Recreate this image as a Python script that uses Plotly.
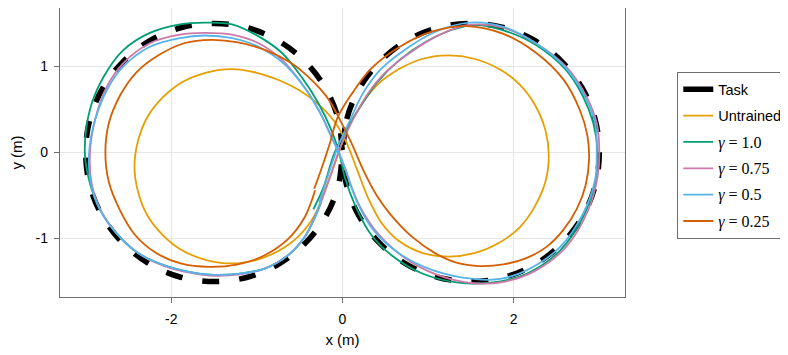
import plotly.graph_objects as go

# ---------------- data ----------------
task_x = [0.00, 0.05, 0.20, 0.44, 0.75, 1.11, 1.50, 1.89, 2.25, 2.56, 2.80, 2.95, 3.00,
          2.95, 2.80, 2.56, 2.25, 1.89, 1.50, 1.11, 0.75, 0.44, 0.20, 0.05, 0.00,
          -0.05, -0.20, -0.44, -0.75, -1.11, -1.50, -1.89, -2.25, -2.56, -2.80, -2.95, -3.00,
          -2.95, -2.80, -2.56, -2.25, -1.89, -1.50, -1.11, -0.75, -0.44, -0.20, -0.05, 0.00]
task_y = [0.00, 0.39, 0.75, 1.06, 1.30, 1.45, 1.50, 1.45, 1.30, 1.06, 0.75, 0.39, 0.00,
          -0.39, -0.75, -1.06, -1.30, -1.45, -1.50, -1.45, -1.30, -1.06, -0.75, -0.39, 0.00,
          0.39, 0.75, 1.06, 1.30, 1.45, 1.50, 1.45, 1.30, 1.06, 0.75, 0.39, 0.00,
          -0.39, -0.75, -1.06, -1.30, -1.45, -1.50, -1.45, -1.30, -1.06, -0.75, -0.39, 0.00]

untrained_x = [-0.21, -0.09, 0.05, 0.21, 0.41, 0.66, 0.94, 1.24, 1.54, 1.83, 2.07, 2.25, 2.37, 2.41,
               2.37, 2.25, 2.07, 1.83, 1.54, 1.24, 0.94, 0.66, 0.45, 0.30, 0.17, 0.04, -0.10,
               -0.28, -0.50, -0.74, -1.01, -1.30, -1.59, -1.87, -2.10, -2.28, -2.39, -2.43,
               -2.39, -2.28, -2.10, -1.87, -1.59, -1.30, -1.01, -0.74, -0.50, -0.32, -0.22]
untrained_y = [-0.45, -0.13, 0.25, 0.54, 0.79, 0.97, 1.09, 1.13, 1.09, 0.97, 0.79, 0.55, 0.26, -0.04,
               -0.34, -0.62, -0.87, -1.05, -1.17, -1.21, -1.17, -1.03, -0.81, -0.53, -0.20, 0.13, 0.37,
               0.56, 0.72, 0.84, 0.93, 0.97, 0.93, 0.82, 0.64, 0.41, 0.13, -0.16,
               -0.45, -0.73, -0.96, -1.14, -1.25, -1.29, -1.25, -1.14, -0.96, -0.72, -0.46]

g100_x = [-0.34, -0.22, -0.10, 0.05, 0.20, 0.40, 0.67, 0.98, 1.29, 1.56, 1.88, 2.26, 2.61, 2.81, 2.93,
          2.98, 2.95, 2.81, 2.54, 2.15, 1.76, 1.33, 0.94, 0.58, 0.33, 0.15, 0.03, -0.04, -0.13,
          -0.28, -0.48, -0.71, -0.98, -1.29, -1.61, -1.90, -2.25, -2.56, -2.79, -2.95, -3.01,
          -2.95, -2.83, -2.64, -2.40, -2.09, -1.78, -1.55, -1.22, -0.91, -0.63, -0.44, -0.32, -0.25]
g100_y = [-0.66, -0.40, -0.02, 0.27, 0.52, 0.81, 1.08, 1.29, 1.43, 1.48, 1.42, 1.25, 0.96, 0.65, 0.34,
          0.00, -0.36, -0.75, -1.14, -1.41, -1.51, -1.51, -1.41, -1.20, -0.95, -0.62, -0.30, 0.00, 0.26,
          0.57, 0.88, 1.16, 1.35, 1.49, 1.51, 1.49, 1.39, 1.19, 0.88, 0.50, 0.00,
          -0.36, -0.67, -0.94, -1.16, -1.31, -1.39, -1.42, -1.41, -1.35, -1.19, -0.98, -0.75, -0.58]

g075_x = [-0.24, -0.15, -0.03, 0.12, 0.30, 0.51, 0.83, 1.14, 1.45, 1.88, 2.26, 2.61, 2.85, 2.97,
          3.00, 2.98, 2.87, 2.61, 2.26, 1.90, 1.53, 1.10, 0.72, 0.42, 0.20, 0.06, -0.05, -0.13,
          -0.28, -0.48, -0.71, -0.98, -1.29, -1.61, -1.90, -2.25, -2.56, -2.75, -2.89, -2.95,
          -2.93, -2.82, -2.63, -2.39, -2.08, -1.77, -1.55, -1.22, -0.91, -0.63, -0.44, -0.32, -0.24]
g075_y = [-0.55, -0.30, 0.05, 0.38, 0.69, 0.94, 1.19, 1.37, 1.48, 1.45, 1.27, 1.00, 0.65, 0.34,
          0.00, -0.28, -0.67, -1.10, -1.37, -1.50, -1.52, -1.42, -1.22, -0.95, -0.62, -0.28, 0.02, 0.18,
          0.50, 0.81, 1.08, 1.27, 1.37, 1.39, 1.37, 1.27, 1.04, 0.77, 0.38, 0.00,
          -0.36, -0.68, -0.95, -1.17, -1.32, -1.40, -1.43, -1.42, -1.35, -1.19, -0.98, -0.74, -0.55]

g050_x = [-0.27, -0.18, -0.06, 0.09, 0.24, 0.44, 0.75, 1.10, 1.49, 1.88, 2.26, 2.61, 2.83, 2.95,
          2.97, 2.95, 2.81, 2.54, 2.15, 1.84, 1.53, 1.06, 0.67, 0.36, 0.16, 0.03, -0.10, -0.24,
          -0.44, -0.67, -0.98, -1.29, -1.61, -1.90, -2.25, -2.56, -2.75, -2.89, -2.96,
          -2.94, -2.83, -2.64, -2.40, -2.09, -1.78, -1.55, -1.22, -0.91, -0.63, -0.44, -0.32, -0.25]
g050_y = [-0.58, -0.30, 0.05, 0.38, 0.69, 0.96, 1.21, 1.41, 1.51, 1.46, 1.27, 0.98, 0.65, 0.34,
          0.00, -0.32, -0.71, -1.10, -1.37, -1.47, -1.47, -1.37, -1.18, -0.90, -0.55, -0.18, 0.12, 0.42,
          0.75, 1.02, 1.23, 1.33, 1.36, 1.33, 1.23, 1.00, 0.73, 0.38, 0.00,
          -0.36, -0.67, -0.94, -1.16, -1.31, -1.39, -1.42, -1.41, -1.35, -1.19, -0.98, -0.75, -0.55]

g025_x = [-0.33, -0.25, -0.15, -0.06, 0.10, 0.34, 0.67, 1.06, 1.45, 1.88, 2.26, 2.58, 2.77, 2.86,
          2.88, 2.84, 2.74, 2.58, 2.38, 2.14, 1.88, 1.60, 1.33, 1.08, 0.80, 0.56, 0.40, 0.25, 0.10,
          -0.04, -0.15, -0.26, -0.40, -0.60, -0.90, -1.22, -1.53, -1.85, -2.15, -2.41, -2.60, -2.73, -2.77,
          -2.73, -2.60, -2.43, -2.19, -1.89, -1.55, -1.22, -0.92, -0.64, -0.44, -0.32]
g025_y = [-0.42, -0.20, 0.10, 0.40, 0.67, 0.98, 1.23, 1.41, 1.47, 1.38, 1.16, 0.85, 0.50, 0.20,
          -0.08, -0.38, -0.65, -0.90, -1.10, -1.23, -1.30, -1.32, -1.28, -1.17, -0.97, -0.72, -0.50, -0.22, 0.12,
          0.40, 0.60, 0.74, 0.88, 1.04, 1.19, 1.28, 1.31, 1.27, 1.13, 0.93, 0.66, 0.34, 0.00,
          -0.34, -0.67, -0.95, -1.16, -1.29, -1.33, -1.30, -1.20, -1.01, -0.75, -0.44]

x_ticks = [-2, 0, 2]
y_ticks = [-1, 0, 1]

# ---------------- figure ----------------
SERIF = "Liberation Serif"


def gamma_name(v):
    return f'<span style="font-family:{SERIF};font-size:16px"><i>γ</i> = {v}</span>'


series = [
    ("Untrained", untrained_x, untrained_y, "#E69F00"),
    (gamma_name("1.0"), g100_x, g100_y, "#009E73"),
    (gamma_name("0.75"), g075_x, g075_y, "#CC79A7"),
    (gamma_name("0.5"), g050_x, g050_y, "#56B4E9"),
    (gamma_name("0.25"), g025_x, g025_y, "#D55E00"),
]

fig = go.Figure()
fig.add_trace(go.Scatter(x=task_x, y=task_y, mode="lines", name="Task", showlegend=False,
                         line=dict(color="black", width=5.5, dash="17px,20px", shape="spline")))
fig.add_trace(go.Scatter(x=[None], y=[None], mode="lines", name="Task", legendgroup="t",
                         line=dict(color="black", width=5.5)))
for i, (nm, xs, ys, col) in enumerate(series):
    fig.add_trace(go.Scatter(x=xs, y=ys, mode="lines", name=nm, legendgroup=f"g{i}",
                             line=dict(color=col, width=1.8, shape="spline")))

axis_common = dict(showline=True, mirror=True, linecolor="#6e6e6e", linewidth=1.3,
                   showgrid=True, gridcolor="#e6e6e6", gridwidth=1, zeroline=False,
                   ticks="outside", ticklen=5, tickcolor="#6e6e6e", tickwidth=1,
                   tickfont=dict(family="Liberation Sans", size=14, color="black"))

fig.update_layout(
    width=788, height=355,
    margin=dict(l=52, r=171, t=0, b=66, autoexpand=False),
    paper_bgcolor="white", plot_bgcolor="white",
    font=dict(family="Liberation Sans", size=14, color="black"),
    xaxis=dict(range=[-3.3, 3.3], tickvals=x_ticks, ticktext=[str(v) for v in x_ticks],
               title=dict(text="x (m)", standoff=8, font=dict(size=15)),
               ticklabelstandoff=4, **axis_common),
    yaxis=dict(range=[-1.68, 1.68], tickvals=y_ticks, ticktext=[str(v) for v in y_ticks],
               title=dict(text="y (m)", standoff=10, font=dict(size=15)),
               ticklabelstandoff=3, **axis_common),
    legend=dict(x=1.092, y=0.7785, xanchor="left", yanchor="top",
                bordercolor="#6e6e6e", borderwidth=1.3, bgcolor="white",
                font=dict(family="Liberation Sans", size=14.5, color="black"),
                tracegroupgap=4.5, itemwidth=30),
    showlegend=True,
)

fig.write_html("out.html")
